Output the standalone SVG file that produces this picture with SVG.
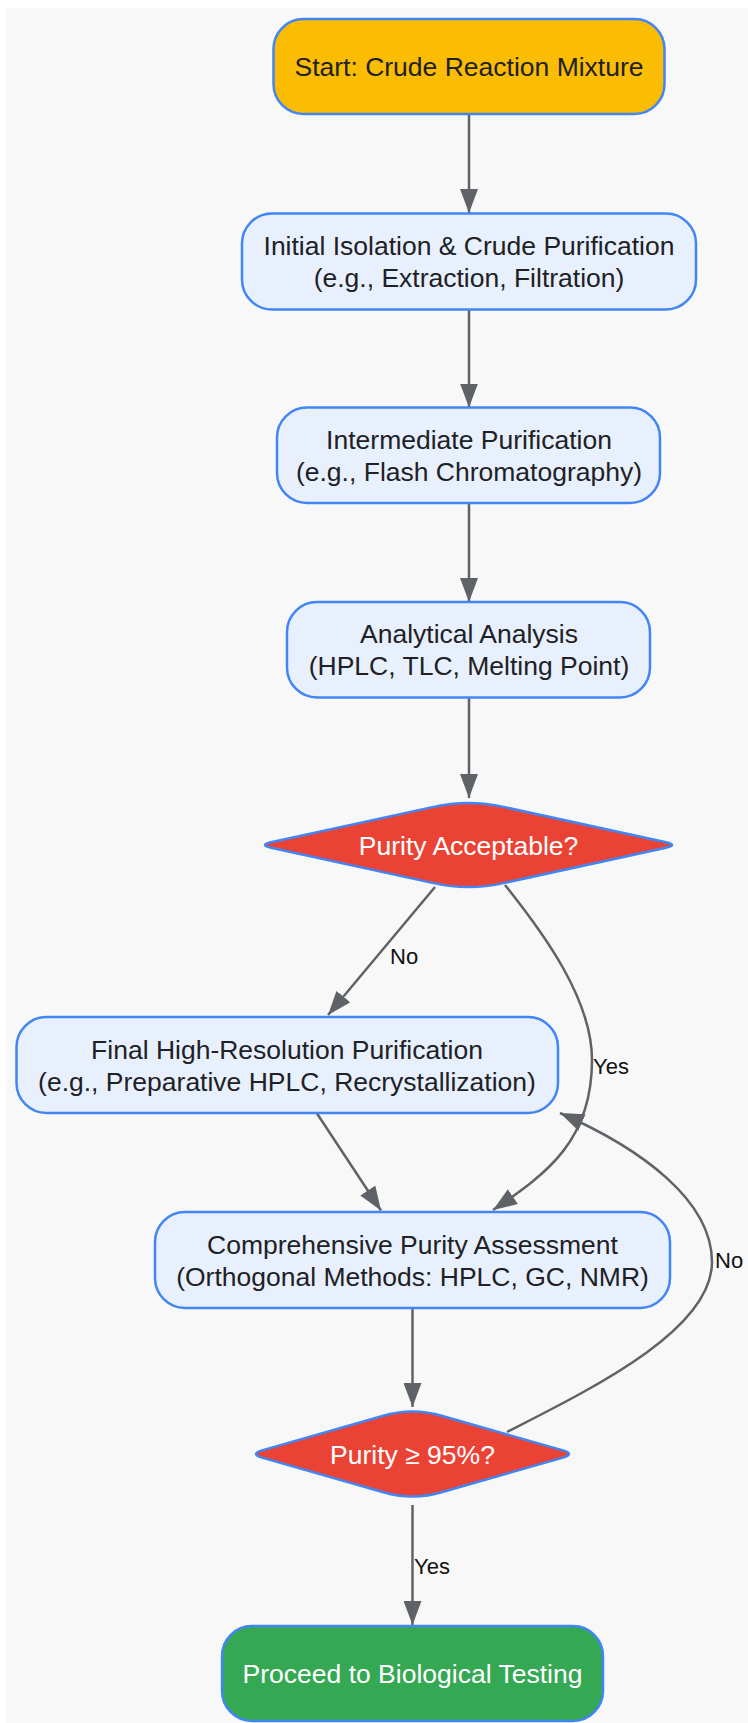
<svg xmlns="http://www.w3.org/2000/svg" width="748" height="1723" viewBox="0 0 748 1723">
<style>
.bg{fill:#f8f8f8}
.proc{fill:#e8f0fe;stroke:#4285f4;stroke-width:2.5}
.start{fill:#fbbc04;stroke:#4285f4;stroke-width:2.5}
.dec{fill:#ea4335;stroke:#4285f4;stroke-width:2.5}
.end{fill:#34a853;stroke:#4285f4;stroke-width:2.5}
.t{font-family:"Liberation Sans",Arial,sans-serif;font-size:26.5px;fill:#202124;text-anchor:middle}
.tw{font-family:"Liberation Sans",Arial,sans-serif;font-size:26.5px;fill:#ffffff;text-anchor:middle}
.lbl{font-family:"Liberation Sans",Arial,sans-serif;font-size:22px;fill:#111111}
.edge{fill:none;stroke:#5f6368;stroke-width:2.5;marker-end:url(#arr)}
</style>
<defs>
<marker id="arr" markerUnits="userSpaceOnUse" markerWidth="24" markerHeight="18" refX="24" refY="9" orient="auto">
<path d="M0,0 L24,9 L0,18 Z" fill="#5f6368"/>
</marker>
</defs>
<rect class="bg" x="6" y="8" width="742" height="1715"/>

<g id="connectors">
<path class="edge" d="M469,114 L469,213"/>
<path class="edge" d="M469,309.5 L469,407.5"/>
<path class="edge" d="M469,503 L469,602"/>
<path class="edge" d="M469,697.5 L469,798"/>
<path class="edge" d="M435,887 L328,1015"/>
<path class="edge" d="M505,885 C545,935 592,1000 592,1060 C592,1140 548,1173 493,1210"/>
<path class="edge" d="M317,1113.5 L381,1210.5"/>
<path class="edge" d="M412.5,1308 L412.5,1407"/>
<path class="edge" d="M507,1432 C593,1388 712,1330 712,1262 C712,1200 640,1148 560,1113"/>
<path class="edge" d="M412.5,1505 L412.5,1625"/>
<text class="lbl" x="390" y="964">No</text>
<text class="lbl" x="593" y="1074">Yes</text>
<text class="lbl" x="715" y="1268">No</text>
<text class="lbl" x="414" y="1574">Yes</text>
</g>

<g id="start">
<rect class="start" x="273.5" y="19" width="391" height="95" rx="30"/>
<text class="t" x="469" y="76">Start: Crude Reaction Mixture</text>
</g>
<g id="initial">
<rect class="proc" x="242" y="213.5" width="454" height="96" rx="30"/>
<text class="t" x="469" y="255">Initial Isolation &amp; Crude Purification</text>
<text class="t" x="469" y="287">(e.g., Extraction, Filtration)</text>
</g>
<g id="intermediate">
<rect class="proc" x="277" y="407.5" width="383" height="95.5" rx="30"/>
<text class="t" x="469" y="448.75">Intermediate Purification</text>
<text class="t" x="469" y="480.75">(e.g., Flash Chromatography)</text>
</g>
<g id="analytical">
<rect class="proc" x="287" y="602" width="363" height="95.5" rx="30"/>
<text class="t" x="469" y="643.25">Analytical Analysis</text>
<text class="t" x="469" y="675.25">(HPLC, TLC, Melting Point)</text>
</g>
<g id="decision1">
<path class="dec" d="M271,842.3 L433.5,806.9 Q468.5,799 503.5,806.9 L666,842.3 Q678,845 666,847.7 L503.5,883.1 Q468.5,891 433.5,883.1 L271,847.7 Q259,845 271,842.3 Z"/>
<text class="tw" x="468.5" y="854.5">Purity Acceptable?</text>
</g>
<g id="final-purification">
<rect class="proc" x="16.5" y="1017" width="541.5" height="96" rx="30"/>
<text class="t" x="287" y="1058.5">Final High-Resolution Purification</text>
<text class="t" x="287" y="1090.5">(e.g., Preparative HPLC, Recrystallization)</text>
</g>
<g id="assessment">
<rect class="proc" x="155" y="1212" width="515" height="96" rx="30"/>
<text class="t" x="412.5" y="1253.5">Comprehensive Purity Assessment</text>
<text class="t" x="412.5" y="1285.5">(Orthogonal Methods: HPLC, GC, NMR)</text>
</g>
<g id="decision2">
<path class="dec" d="M262,1450.4 L382.5,1416 Q412.5,1407 442.5,1416 L563,1450.4 Q575,1454 563,1457.6 L442.5,1492 Q412.5,1501 382.5,1492 L262,1457.6 Q250,1454 262,1450.4 Z"/>
<text class="tw" x="412.5" y="1463.5">Purity ≥ 95%?</text>
</g>
<g id="biological">
<rect class="end" x="222" y="1626" width="381" height="95" rx="30"/>
<text class="tw" x="412.5" y="1683">Proceed to Biological Testing</text>
</g>
</svg>
